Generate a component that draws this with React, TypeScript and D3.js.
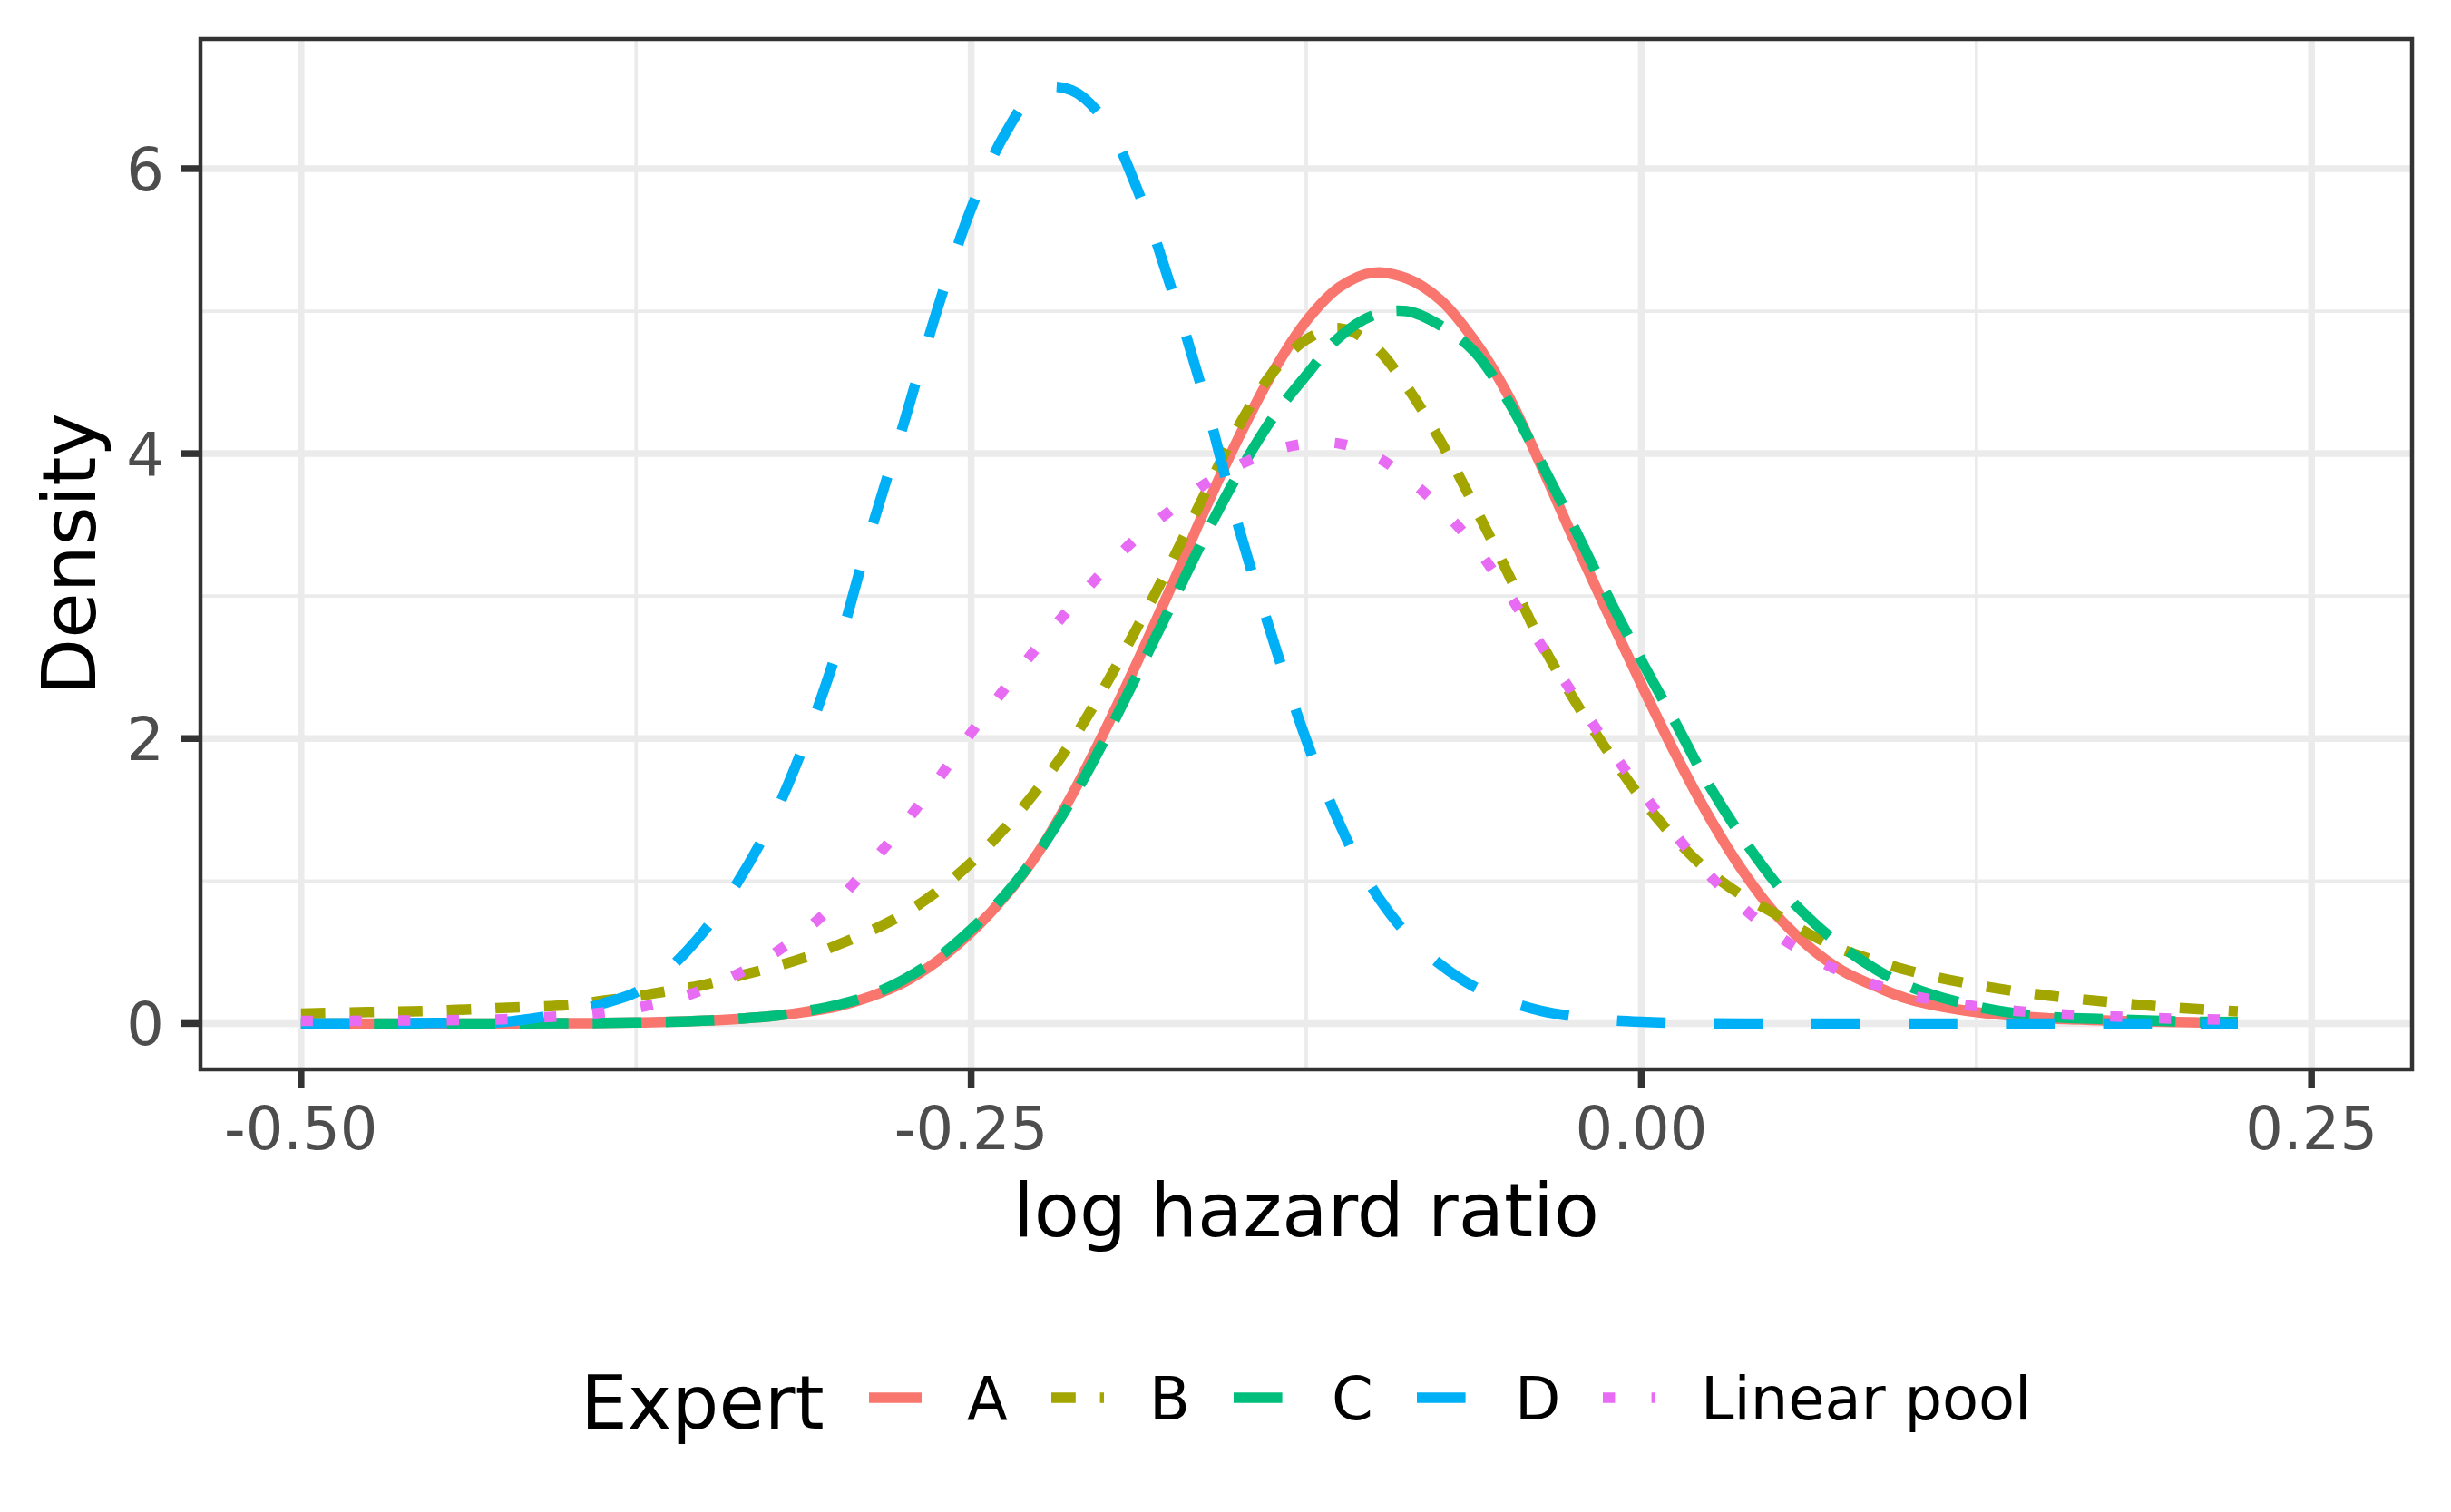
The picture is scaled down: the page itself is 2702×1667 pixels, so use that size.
import React from 'react';
import * as d3 from 'd3';

// log hazard ratio grid (x values)
const LOG_HR = [
  -0.5, -0.475, -0.45, -0.425, -0.4, -0.3875, -0.375, -0.3625, -0.35, -0.3375,
  -0.325, -0.3125, -0.3, -0.2875, -0.275, -0.2625, -0.25, -0.2375, -0.225, -0.2125,
  -0.2, -0.1875, -0.175, -0.1625, -0.15, -0.1375, -0.125, -0.1125, -0.1, -0.0875,
  -0.075, -0.0625, -0.05, -0.0375, -0.025, -0.0125, 0, 0.0125, 0.025, 0.0375,
  0.05, 0.0625, 0.075, 0.0875, 0.1, 0.125, 0.15, 0.175, 0.2, 0.2225,
];

const EXPERT_A = [
  0, 0, 0, 0, 0.002, 0.004, 0.007, 0.012, 0.02, 0.032,
  0.05, 0.08, 0.12, 0.19, 0.29, 0.44, 0.64, 0.89, 1.2, 1.6,
  2.06, 2.56, 3.08, 3.62, 4.12, 4.57, 4.93, 5.17, 5.27, 5.23,
  5.08, 4.8, 4.42, 3.92, 3.39, 2.88, 2.38, 1.9, 1.46, 1.08,
  0.77, 0.54, 0.37, 0.26, 0.17, 0.08, 0.04, 0.02, 0.01, 0.005,
];

const EXPERT_B = [
  0.07, 0.08, 0.09, 0.11, 0.13, 0.16, 0.19, 0.23, 0.27, 0.33,
  0.39, 0.46, 0.55, 0.65, 0.77, 0.93, 1.13, 1.37, 1.65, 1.98,
  2.37, 2.8, 3.25, 3.73, 4.2, 4.57, 4.8, 4.88, 4.76, 4.47,
  4.09, 3.64, 3.17, 2.68, 2.27, 1.91, 1.58, 1.3, 1.07, 0.9,
  0.77, 0.63, 0.52, 0.44, 0.37, 0.27, 0.2, 0.15, 0.11, 0.085,
];

const EXPERT_C = [
  0, 0, 0, 0, 0.002, 0.004, 0.007, 0.012, 0.02, 0.033,
  0.05, 0.085, 0.13, 0.2, 0.31, 0.46, 0.66, 0.9, 1.2, 1.57,
  2.0, 2.47, 2.95, 3.43, 3.87, 4.25, 4.55, 4.82, 4.97, 5.0,
  4.9, 4.72, 4.38, 3.94, 3.48, 3.0, 2.55, 2.12, 1.68, 1.31,
  0.99, 0.74, 0.54, 0.38, 0.26, 0.12, 0.05, 0.03, 0.015, 0.01,
];

const EXPERT_D = [
  0, 0.002, 0.004, 0.01, 0.08, 0.14, 0.22, 0.39, 0.64, 0.98,
  1.4, 1.95, 2.62, 3.45, 4.22, 5.02, 5.72, 6.24, 6.55, 6.55,
  6.33, 5.83, 5.14, 4.36, 3.47, 2.7, 1.99, 1.4, 0.94, 0.63,
  0.415, 0.26, 0.16, 0.09, 0.05, 0.025, 0.012, 0.005, 0.002, 0,
  0, 0, 0, 0, 0, 0, 0, 0, 0, 0,
];

const LINEAR_POOL = [
  0.018, 0.02, 0.023, 0.03, 0.055, 0.077, 0.11, 0.16, 0.238, 0.344,
  0.473, 0.644, 0.855, 1.12, 1.4, 1.71, 2.04, 2.35, 2.65, 2.93,
  3.19, 3.42, 3.61, 3.79, 3.92, 4.02, 4.07, 4.07, 3.99, 3.83,
  3.62, 3.36, 3.03, 2.66, 2.3, 1.95, 1.63, 1.33, 1.05, 0.82,
  0.63, 0.48, 0.36, 0.27, 0.2, 0.12, 0.073, 0.05, 0.034, 0.025,
];

const SERIES_NAMES = ['A', 'B', 'C', 'D', 'Linear pool'];
const SERIES_VALUES = [EXPERT_A, EXPERT_B, EXPERT_C, EXPERT_D, LINEAR_POOL];

const X_TICKS = [-0.5, -0.25, 0, 0.25];
const X_TICK_LABELS = ['-0.50', '-0.25', '0.00', '0.25'];
const X_MINOR = [-0.375, -0.125, 0.125];
const Y_TICKS = [0, 2, 4, 6];
const Y_TICK_LABELS = ['0', '2', '4', '6'];
const Y_MINOR = [1, 3, 5];

const X_TITLE = 'log hazard ratio';
const Y_TITLE = 'Density';
const LEGEND_TITLE = 'Expert';

// styles
const COLORS = ['#F8766D', '#A3A500', '#00BF7D', '#00B0F6', '#E76BF3'];
const DASHES = ['none', '26.8 26.8', '53.6 26.8', '53.6 53.6', '13.4 40.2'];
const FONT = '"DejaVu Sans", Verdana, sans-serif';

export default function App() {
  const W = 2702;
  const H = 1667;
  const left = 221;
  const right = 2659;
  const top = 43;
  const bottom = 1179;

  const x = d3.scaleLinear().domain([-0.5375, 0.2875]).range([left, right]);
  const y = d3.scaleLinear().domain([-0.322, 6.91]).range([bottom, top]);

  const line = d3
    .line<[number, number]>()
    .x((d) => x(d[0]))
    .y((d) => y(d[1]))
    .curve(d3.curveCatmullRom.alpha(0.5));

  const gridCol = '#EBEBEB';
  const axisCol = '#333333';
  const tickTextCol = '#4D4D4D';

  // legend layout
  const keyStarts = [958, 1159, 1360, 1562, 1767];
  const keyW = 58;
  const keyY = 1541;

  return (
    <svg
      width={W}
      height={H}
      viewBox={`0 0 ${W} ${H}`}
      style={{ position: 'absolute', left: 0, top: 0, background: '#fff' }}
      fontFamily={FONT}
    >
      <rect x={0} y={0} width={W} height={H} fill="#ffffff" />
      <defs>
        <clipPath id="panel">
          <rect x={left} y={top} width={right - left} height={bottom - top} />
        </clipPath>
      </defs>

      {/* grid */}
      <g>
        {X_MINOR.map((v) => (
          <line key={'xm' + v} x1={x(v)} x2={x(v)} y1={top} y2={bottom} stroke={gridCol} strokeWidth={3.75} />
        ))}
        {Y_MINOR.map((v) => (
          <line key={'ym' + v} x1={left} x2={right} y1={y(v)} y2={y(v)} stroke={gridCol} strokeWidth={3.75} />
        ))}
        {X_TICKS.map((v) => (
          <line key={'xM' + v} x1={x(v)} x2={x(v)} y1={top} y2={bottom} stroke={gridCol} strokeWidth={7.5} />
        ))}
        {Y_TICKS.map((v) => (
          <line key={'yM' + v} x1={left} x2={right} y1={y(v)} y2={y(v)} stroke={gridCol} strokeWidth={7.5} />
        ))}
      </g>

      {/* density curves */}
      <g clipPath="url(#panel)">
        {SERIES_VALUES.map((vals, i) => {
          const pts = LOG_HR.map((xv, j) => [xv, vals[j]] as [number, number]);
          return (
            <path
              key={SERIES_NAMES[i]}
              d={line(pts) || ''}
              fill="none"
              stroke={COLORS[i]}
              strokeWidth={11.5}
              strokeDasharray={DASHES[i]}
              strokeLinecap="butt"
              strokeLinejoin="round"
            />
          );
        })}
      </g>

      {/* panel border */}
      <rect x={left} y={top} width={right - left} height={bottom - top} fill="none" stroke={axisCol} strokeWidth={4.5} />

      {/* axes ticks */}
      {X_TICKS.map((v, i) => (
        <g key={'xt' + v}>
          <line x1={x(v)} x2={x(v)} y1={bottom} y2={bottom + 21} stroke={axisCol} strokeWidth={7.5} />
          <text x={x(v)} y={1267} textAnchor="middle" fontSize={65.5} fill={tickTextCol}>
            {X_TICK_LABELS[i]}
          </text>
        </g>
      ))}
      {Y_TICKS.map((v, i) => (
        <g key={'yt' + v}>
          <line x1={left - 21} x2={left} y1={y(v)} y2={y(v)} stroke={axisCol} strokeWidth={7.5} />
          <text x={181} y={y(v) + 23.8} textAnchor="end" fontSize={65.5} fill={tickTextCol}>
            {Y_TICK_LABELS[i]}
          </text>
        </g>
      ))}

      {/* axis titles */}
      <text x={(left + right) / 2} y={1363} textAnchor="middle" fontSize={82} fill="#000">
        {X_TITLE}
      </text>
      <text
        transform={`translate(105, ${(top + bottom) / 2}) rotate(-90)`}
        textAnchor="middle"
        fontSize={82}
        fill="#000"
      >
        {Y_TITLE}
      </text>

      {/* legend */}
      <text x={640} y={1575} fontSize={82} fill="#000">
        {LEGEND_TITLE}
      </text>
      {SERIES_NAMES.map((name, i) => (
        <g key={'lg' + name}>
          <line
            x1={keyStarts[i]}
            x2={keyStarts[i] + keyW}
            y1={keyY}
            y2={keyY}
            stroke={COLORS[i]}
            strokeWidth={11.5}
            strokeDasharray={DASHES[i]}
            strokeLinecap="butt"
          />
          <text x={keyStarts[i] + 108} y={1565} fontSize={65.5} fill="#000">
            {name}
          </text>
        </g>
      ))}
    </svg>
  );
}
